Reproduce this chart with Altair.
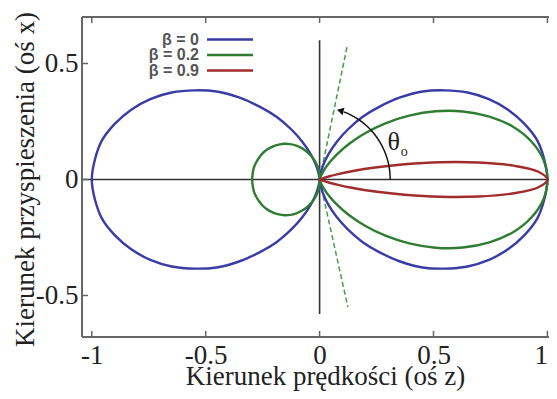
import altair as alt
import pandas as pd

# ---------------- data ----------------
SERIES = ["β = 0", "β = 0.2", "β = 0.9"]
COLORS = ["#3b3ba6", "#2e7d32", "#a12c2c"]

# beta = 0 : upper half of the forward lobe (angle from z axis, deg -> radius)
ANG_B0 = [0, 5, 10, 15, 20, 25, 30, 35, 40, 45, 50, 55, 60, 65, 70, 75, 80, 85, 90]
R_B0 = [1.0, 0.99, 0.97, 0.93, 0.88, 0.82, 0.75, 0.67, 0.59, 0.50, 0.41, 0.33,
        0.25, 0.18, 0.12, 0.07, 0.03, 0.01, 0.0]

# beta = 0.2 : forward lobe and backward lobe (upper halves)
ANG_B02F = [0, 5, 10, 15, 20, 25, 30, 35, 40, 45, 50, 55, 60, 65, 70, 75, 78.5]
R_B02F = [1.0, 0.986, 0.944, 0.879, 0.793, 0.694, 0.588, 0.480, 0.377, 0.282,
          0.200, 0.131, 0.078, 0.040, 0.015, 0.002, 0.0]
ANG_B02B = [78.5, 85, 90, 95, 100, 105, 110, 115, 120, 125, 130, 135, 140, 145,
            150, 155, 160, 165, 170, 175, 180]
R_B02B = [0.0, 0.007, 0.021, 0.039, 0.060, 0.084, 0.108, 0.132, 0.156, 0.178,
          0.199, 0.218, 0.234, 0.249, 0.262, 0.273, 0.281, 0.288, 0.293, 0.295, 0.296]

# beta = 0.9 : narrow forward lobe (upper half)
ANG_B09 = [0, 2, 4, 6, 8, 10, 12, 14, 16, 18, 20, 22, 24, 25.8]
R_B09 = [1.0, 0.961, 0.854, 0.702, 0.536, 0.379, 0.249, 0.151, 0.084, 0.042,
         0.018, 0.006, 0.001, 0.0]

# dashed zero-emission direction for beta = 0.2
DASH_Z = [0.12, 0.0, 0.124]
DASH_X = [0.57, 0.0, -0.55]

# angle arrow (theta_o)
ARC_DEG = [0, 8, 16, 24, 32, 40, 48, 56, 64, 70]
ARC_R = 0.31

X_TICKS = [-1, -0.5, 0, 0.5, 1]
Y_TICKS = [-0.5, 0, 0.5]

# ---------------- geometry ----------------
W, H = 467, 320
X_DOM = [-1.0430, 1.0070]
Y_DOM = [-0.679, 0.7004]
SERIF = "Liberation Serif"


def front(ang, rad):
    a = [-v for v in reversed(ang)] + ang[1:]
    r = list(reversed(rad)) + rad[1:]
    return a, r


def back(ang, rad):
    a = ang + [360 - v for v in reversed(ang[:-1])]
    r = rad + list(reversed(rad[:-1]))
    return a, r


rows = []


def add(series, loop, a, r):
    for i, (aa, rr) in enumerate(zip(a, r)):
        rows.append({"series": series, "loop": loop, "idx": i, "a": aa, "r": rr})


add(SERIES[0], "b0f", *front(ANG_B0, R_B0))
add(SERIES[0], "b0b", *back([180 - v for v in reversed(ANG_B0)], list(reversed(R_B0))))
add(SERIES[1], "b2f", *front(ANG_B02F, R_B02F))
add(SERIES[1], "b2b", *back(ANG_B02B, R_B02B))
add(SERIES[2], "b9f", *front(ANG_B09, R_B09))
curves = pd.DataFrame(rows)

x_axis = alt.Axis(values=X_TICKS, domain=False, ticks=False, grid=False,
                  labelFont=SERIF, labelFontSize=27, labelColor="#222",
                  labelPadding=5, labelFlush=5,
                  labelExpr="(datum.value < 0 ? '-' : '') + format(abs(datum.value), '')",
                  title="Kierunek prędkości (oś z)", titleFont=SERIF,
                  titleFontSize=27, titleFontWeight="normal", titleColor="#222",
                  titleX=243, titleY=47, titleBaseline="alphabetic")
y_axis = alt.Axis(values=Y_TICKS, domain=False, ticks=False, grid=False,
                  labelFont=SERIF, labelFontSize=27, labelColor="#222",
                  labelPadding=4,
                  labelExpr="(datum.value < 0 ? '-' : '') + format(abs(datum.value), '')",
                  title="Kierunek przyspieszenia (oś x)", titleFont=SERIF,
                  titleFontSize=27, titleFontWeight="normal", titleColor="#222",
                  titleX=-49, titleY=162, titleBaseline="alphabetic")

xs = alt.Scale(domain=X_DOM, nice=False, zero=False)
ys = alt.Scale(domain=Y_DOM, nice=False, zero=False)
cs = alt.Scale(domain=SERIES, range=COLORS)


def X(f):
    return alt.X(f, type="quantitative", scale=xs, axis=x_axis)


def Y(f):
    return alt.Y(f, type="quantitative", scale=ys, axis=y_axis)


one = pd.DataFrame({"k": [0]})
FRAME = "#666666"

frame_top = alt.Chart(one).mark_rule(color=FRAME, strokeWidth=2).encode(
    x=alt.value(0), x2=alt.value(W), y=alt.value(0))
frame_bot = alt.Chart(one).mark_rule(color=FRAME, strokeWidth=2).encode(
    x=alt.value(0), x2=alt.value(W), y=alt.value(H))
frame_left = alt.Chart(one).mark_rule(color=FRAME, strokeWidth=2).encode(
    x=alt.value(0), y=alt.value(0), y2=alt.value(H))

xt = pd.DataFrame({"v": X_TICKS})
yt = pd.DataFrame({"v": Y_TICKS})
ticks_bot = alt.Chart(xt).mark_rule(color=FRAME, strokeWidth=1.5).encode(
    x=X("v"), y=alt.value(H), y2=alt.value(H - 6))
ticks_top = alt.Chart(xt).mark_rule(color=FRAME, strokeWidth=1.5).encode(
    x=X("v"), y=alt.value(0), y2=alt.value(6))
ticks_left = alt.Chart(yt).mark_rule(color=FRAME, strokeWidth=1.5).encode(
    y=Y("v"), x=alt.value(0), x2=alt.value(6))

zero_h = alt.Chart(pd.DataFrame({"y": [0.0]})).mark_rule(color="#333", strokeWidth=1.6).encode(
    y=Y("y"), x=alt.value(0), x2=alt.value(W))
zero_v = alt.Chart(pd.DataFrame({"x": [0.0], "y1": [-0.58], "y2": [0.6]})).mark_rule(
    color="#333", strokeWidth=1.6).encode(x=X("x"), y=Y("y1"), y2="y2:Q")

lines = alt.Chart(curves).mark_line(interpolate="catmull-rom", strokeWidth=2.4).transform_calculate(
    px="datum.r * cos(datum.a * PI / 180)",
    py="datum.r * sin(datum.a * PI / 180)",
).encode(
    x=X("px"), y=Y("py"),
    color=alt.Color("series:N", scale=cs, legend=None),
    detail="loop:N", order="idx:Q")

dash = alt.Chart(pd.DataFrame({"z": DASH_Z, "x": DASH_X, "i": [0, 1, 2]})).mark_line(
    color="#3f9f46", strokeWidth=1.5, strokeDash=[5, 3]).encode(
    x=X("z"), y=Y("x"), order="i:Q")

arc = alt.Chart(pd.DataFrame({"d": ARC_DEG})).mark_line(
    color="#111", strokeWidth=1.5, interpolate="catmull-rom").transform_calculate(
    px=f"{ARC_R} * cos(datum.d * PI / 180)",
    py=f"{ARC_R} * sin(datum.d * PI / 180)",
).encode(x=X("px"), y=Y("py"), order="d:Q")

head = alt.Chart(pd.DataFrame({"d": [73]})).mark_point(
    shape="triangle-left", filled=True, color="#111", size=60, angle=15, opacity=1).transform_calculate(
    px=f"{ARC_R} * cos(datum.d * PI / 180)",
    py=f"{ARC_R} * sin(datum.d * PI / 180)",
).encode(x=X("px"), y=Y("py"))

theta = alt.Chart(pd.DataFrame({"z": [0.325], "x": [0.16], "t": ["θ"]})).mark_text(
    font=SERIF, fontSize=26, color="#222").encode(x=X("z"), y=Y("x"), text="t:N")
sub = alt.Chart(pd.DataFrame({"z": [0.372], "x": [0.118], "t": ["o"]})).mark_text(
    font=SERIF, fontSize=14, color="#222").encode(x=X("z"), y=Y("x"), text="t:N")

leg = pd.DataFrame({"series": SERIES, "row": [0, 1, 2]})
leg_text = alt.Chart(leg).mark_text(
    font="Liberation Sans", fontSize=16, fontWeight="bold", color="#555",
    align="right", baseline="middle").transform_calculate(
    py="22.5 + datum.row * 15.5").encode(
    x=alt.value(117), y=alt.Y("py:Q", scale=None), text="series:N")
leg_line = alt.Chart(leg).mark_rule(strokeWidth=2.6).transform_calculate(
    py="22.5 + datum.row * 15.5").encode(
    x=alt.value(125), x2=alt.value(171), y=alt.Y("py:Q", scale=None),
    color=alt.Color("series:N", scale=cs, legend=None))

chart = alt.layer(
    zero_h, zero_v, dash, lines, arc, head, theta, sub,
    frame_top, frame_bot, frame_left, ticks_bot, ticks_top, ticks_left,
    leg_text, leg_line,
).properties(
    width=W, height=H,
    autosize=alt.AutoSizeParams(type="none"),
    padding={"left": 74, "top": 9, "right": 0, "bottom": 54},
    background="white",
).configure_view(stroke=None)

chart.save("out.html", embed_options={"renderer": "svg", "actions": False})
